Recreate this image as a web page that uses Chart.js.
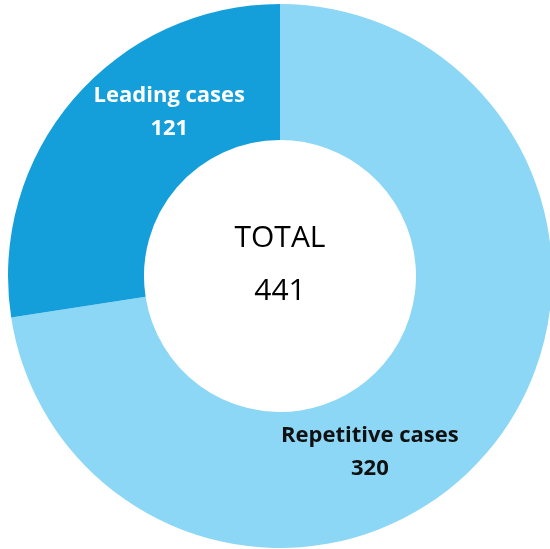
<!DOCTYPE html>
<html lang="en">
<head>
  <meta charset="UTF-8">
  <title>Cases</title>
  <script src="https://cdn.jsdelivr.net/npm/chart.js"></script>
  <style>
    html, body { margin: 0; padding: 0; background: #fff; }
    #wrap { width: 550px; height: 549px; }
  </style>
</head>
<body>
  <div id="wrap"><canvas id="casesChart"></canvas></div>

  <script>
    // chart data
    const categories = ['Repetitive cases', 'Leading cases'];
    const caseCounts = [320, 121];
    const sliceColors = ['#8CD6F6', '#159FDA'];
    const labelColors = ['#111111', '#ffffff'];
    const centerLines = ['TOTAL', '441'];

    // where each slice label sits: angle (deg, clockwise from top) and distance from centre
    const labelAngles = [153, 326];
    const labelDist = 198;

    const labelsPlugin = {
      id: 'labels',
      afterDraw(chart) {
        const ctx = chart.ctx;
        const arc = chart.getDatasetMeta(0).data[0];
        const cx = arc.x, cy = arc.y;
        ctx.save();
        ctx.textAlign = 'center';
        ctx.textBaseline = 'alphabetic';

        // slice labels
        ctx.font = 'bold 22px "Open Sans"';
        categories.forEach((name, i) => {
          const a = (labelAngles[i] - 90) * Math.PI / 180;
          const x = cx + Math.cos(a) * labelDist;
          const y = cy + Math.sin(a) * labelDist;
          ctx.fillStyle = labelColors[i];
          ctx.fillText(name, x, y - 10);
          ctx.fillText(String(caseCounts[i]), x, y + 23);
        });

        // centre text
        ctx.fillStyle = '#000';
        ctx.font = '30px "Open Sans"';
        ctx.fillText(centerLines[0], cx, cy - 29);
        ctx.fillText(centerLines[1], cx, cy + 24);
        ctx.restore();
      }
    };

    new Chart(document.getElementById('casesChart'), {
      type: 'doughnut',
      data: {
        labels: categories,
        datasets: [{
          data: caseCounts,
          backgroundColor: sliceColors,
          borderWidth: 0,
          radius: 272,
          cutout: '50%'
        }]
      },
      options: {
        responsive: true,
        maintainAspectRatio: false,
        animation: false,
        layout: { padding: { left: 10, top: 3, right: 0, bottom: 0 } },
        plugins: {
          legend: { display: false },
          tooltip: { enabled: false }
        }
      },
      plugins: [labelsPlugin]
    });
  </script>
</body>
</html>
